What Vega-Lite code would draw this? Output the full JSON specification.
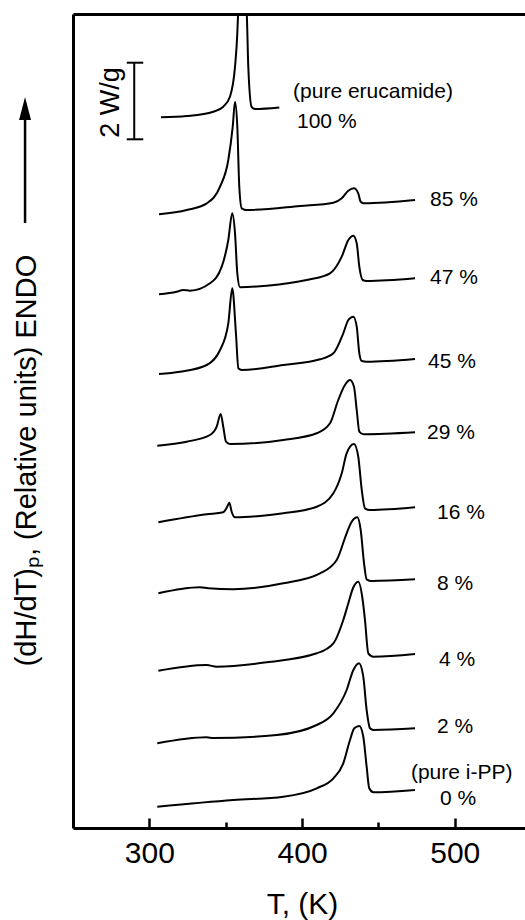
{
  "$schema": "https://vega.github.io/schema/vega-lite/v6.json",
  "width": 452,
  "height": 814,
  "autosize": {"type": "none"},
  "padding": {"left": 73, "top": 14, "right": 0, "bottom": 92},
  "background": "white",
  "config": {
    "view": {"stroke": null},
    "font": "Liberation Sans",
    "axis": {"grid": false, "domainColor": "black", "tickColor": "black", "labelColor": "black", "titleColor": "black", "labelFont": "Liberation Sans", "titleFont": "Liberation Sans"}
  },
  "datasets": {
    "curves": [
      {"s": "100 %", "T": 307.6, "v": 71.07},
      {"s": "100 %", "T": 324.5, "v": 71.2},
      {"s": "100 %", "T": 341.9, "v": 71.63},
      {"s": "100 %", "T": 348.4, "v": 72.13},
      {"s": "100 %", "T": 352.8, "v": 73.13},
      {"s": "100 %", "T": 356.1, "v": 76.13},
      {"s": "100 %", "T": 357.6, "v": 79.47},
      {"s": "100 %", "T": 358.1, "v": 81.4},
      {"s": "100 %", "T": 360.7, "v": 86.8},
      {"s": "100 %", "T": 363.8, "v": 81.4},
      {"s": "100 %", "T": 364.8, "v": 76.1},
      {"s": "100 %", "T": 367.0, "v": 72.1},
      {"s": "100 %", "T": 369.2, "v": 71.9},
      {"s": "100 %", "T": 385.1, "v": 72.05},

      {"s": "85 %", "T": 306.3, "v": 61.37},
      {"s": "85 %", "T": 324.5, "v": 61.8},
      {"s": "85 %", "T": 337.6, "v": 62.47},
      {"s": "85 %", "T": 346.3, "v": 64.13},
      {"s": "85 %", "T": 351.7, "v": 66.8},
      {"s": "85 %", "T": 354.6, "v": 70.13},
      {"s": "85 %", "T": 356.1, "v": 72.63},
      {"s": "85 %", "T": 357.6, "v": 70.13},
      {"s": "85 %", "T": 358.9, "v": 64.13},
      {"s": "85 %", "T": 360.5, "v": 61.97},
      {"s": "85 %", "T": 363.8, "v": 61.8},
      {"s": "85 %", "T": 398.7, "v": 62.2},
      {"s": "85 %", "T": 420.5, "v": 62.53},
      {"s": "85 %", "T": 426.0, "v": 62.97},
      {"s": "85 %", "T": 430.3, "v": 63.73},
      {"s": "85 %", "T": 434.0, "v": 63.97},
      {"s": "85 %", "T": 436.8, "v": 63.47},
      {"s": "85 %", "T": 438.4, "v": 62.63},
      {"s": "85 %", "T": 440.6, "v": 62.47},
      {"s": "85 %", "T": 474.0, "v": 62.8},

      {"s": "47 %", "T": 306.3, "v": 53.37},
      {"s": "47 %", "T": 317.9, "v": 53.63},
      {"s": "47 %", "T": 322.2, "v": 53.8},
      {"s": "47 %", "T": 326.6, "v": 53.73},
      {"s": "47 %", "T": 339.7, "v": 54.47},
      {"s": "47 %", "T": 347.4, "v": 56.13},
      {"s": "47 %", "T": 351.7, "v": 58.8},
      {"s": "47 %", "T": 354.3, "v": 61.47},
      {"s": "47 %", "T": 356.1, "v": 59.47},
      {"s": "47 %", "T": 357.6, "v": 55.47},
      {"s": "47 %", "T": 359.4, "v": 54.07},
      {"s": "47 %", "T": 376.9, "v": 54.23},
      {"s": "47 %", "T": 403.0, "v": 54.8},
      {"s": "47 %", "T": 418.3, "v": 55.47},
      {"s": "47 %", "T": 426.0, "v": 57.13},
      {"s": "47 %", "T": 430.3, "v": 58.8},
      {"s": "47 %", "T": 433.6, "v": 59.23},
      {"s": "47 %", "T": 435.8, "v": 58.47},
      {"s": "47 %", "T": 437.5, "v": 56.13},
      {"s": "47 %", "T": 439.7, "v": 54.8},
      {"s": "47 %", "T": 442.3, "v": 54.7},
      {"s": "47 %", "T": 474.0, "v": 54.97},

      {"s": "45 %", "T": 306.3, "v": 45.4},
      {"s": "45 %", "T": 320.1, "v": 45.63},
      {"s": "45 %", "T": 337.6, "v": 46.3},
      {"s": "45 %", "T": 346.3, "v": 47.8},
      {"s": "45 %", "T": 351.7, "v": 50.47},
      {"s": "45 %", "T": 354.3, "v": 53.97},
      {"s": "45 %", "T": 356.7, "v": 49.47},
      {"s": "45 %", "T": 358.3, "v": 45.97},
      {"s": "45 %", "T": 360.5, "v": 45.8},
      {"s": "45 %", "T": 387.7, "v": 46.3},
      {"s": "45 %", "T": 411.8, "v": 46.87},
      {"s": "45 %", "T": 420.5, "v": 47.47},
      {"s": "45 %", "T": 427.0, "v": 49.47},
      {"s": "45 %", "T": 430.3, "v": 50.8},
      {"s": "45 %", "T": 433.6, "v": 51.13},
      {"s": "45 %", "T": 435.8, "v": 50.13},
      {"s": "45 %", "T": 437.5, "v": 47.47},
      {"s": "45 %", "T": 439.1, "v": 46.7},
      {"s": "45 %", "T": 442.3, "v": 46.63},
      {"s": "45 %", "T": 474.0, "v": 46.9},

      {"s": "29 %", "T": 305.2, "v": 38.23},
      {"s": "29 %", "T": 324.5, "v": 38.63},
      {"s": "29 %", "T": 339.7, "v": 39.3},
      {"s": "29 %", "T": 344.1, "v": 40.13},
      {"s": "29 %", "T": 346.7, "v": 41.4},
      {"s": "29 %", "T": 348.4, "v": 40.13},
      {"s": "29 %", "T": 350.2, "v": 38.63},
      {"s": "29 %", "T": 352.8, "v": 38.4},
      {"s": "29 %", "T": 387.7, "v": 38.8},
      {"s": "29 %", "T": 409.6, "v": 39.47},
      {"s": "29 %", "T": 418.3, "v": 40.47},
      {"s": "29 %", "T": 423.7, "v": 42.8},
      {"s": "29 %", "T": 428.1, "v": 44.3},
      {"s": "29 %", "T": 431.4, "v": 44.8},
      {"s": "29 %", "T": 434.0, "v": 44.13},
      {"s": "29 %", "T": 435.8, "v": 41.8},
      {"s": "29 %", "T": 437.5, "v": 39.63},
      {"s": "29 %", "T": 440.1, "v": 39.37},
      {"s": "29 %", "T": 474.0, "v": 39.57},

      {"s": "16 %", "T": 305.9, "v": 30.57},
      {"s": "16 %", "T": 337.6, "v": 31.37},
      {"s": "16 %", "T": 348.4, "v": 31.57},
      {"s": "16 %", "T": 351.0, "v": 32.13},
      {"s": "16 %", "T": 352.4, "v": 32.53},
      {"s": "16 %", "T": 353.9, "v": 31.63},
      {"s": "16 %", "T": 356.1, "v": 31.07},
      {"s": "16 %", "T": 372.5, "v": 31.2},
      {"s": "16 %", "T": 387.7, "v": 31.47},
      {"s": "16 %", "T": 409.6, "v": 32.13},
      {"s": "16 %", "T": 420.5, "v": 33.47},
      {"s": "16 %", "T": 426.0, "v": 35.47},
      {"s": "16 %", "T": 429.2, "v": 37.47},
      {"s": "16 %", "T": 434.0, "v": 38.4},
      {"s": "16 %", "T": 436.8, "v": 37.13},
      {"s": "16 %", "T": 439.1, "v": 33.8},
      {"s": "16 %", "T": 441.2, "v": 31.97},
      {"s": "16 %", "T": 444.5, "v": 31.8},
      {"s": "16 %", "T": 474.0, "v": 32.07},

      {"s": "8 %", "T": 305.9, "v": 23.47},
      {"s": "8 %", "T": 333.2, "v": 24.07},
      {"s": "8 %", "T": 338.6, "v": 23.97},
      {"s": "8 %", "T": 355.0, "v": 23.87},
      {"s": "8 %", "T": 387.7, "v": 24.47},
      {"s": "8 %", "T": 411.8, "v": 25.47},
      {"s": "8 %", "T": 422.7, "v": 26.8},
      {"s": "8 %", "T": 429.2, "v": 29.47},
      {"s": "8 %", "T": 432.5, "v": 30.63},
      {"s": "8 %", "T": 436.2, "v": 31.07},
      {"s": "8 %", "T": 438.4, "v": 29.8},
      {"s": "8 %", "T": 440.6, "v": 26.47},
      {"s": "8 %", "T": 442.3, "v": 24.87},
      {"s": "8 %", "T": 445.6, "v": 24.7},
      {"s": "8 %", "T": 474.0, "v": 24.87},

      {"s": "4 %", "T": 305.9, "v": 15.73},
      {"s": "4 %", "T": 337.6, "v": 16.3},
      {"s": "4 %", "T": 344.1, "v": 16.13},
      {"s": "4 %", "T": 376.9, "v": 16.57},
      {"s": "4 %", "T": 409.6, "v": 17.47},
      {"s": "4 %", "T": 420.5, "v": 18.47},
      {"s": "4 %", "T": 427.0, "v": 20.8},
      {"s": "4 %", "T": 430.3, "v": 22.47},
      {"s": "4 %", "T": 433.4, "v": 24.0},
      {"s": "4 %", "T": 436.8, "v": 24.63},
      {"s": "4 %", "T": 439.7, "v": 22.8},
      {"s": "4 %", "T": 441.2, "v": 20.8},
      {"s": "4 %", "T": 443.4, "v": 17.47},
      {"s": "4 %", "T": 446.7, "v": 17.13},
      {"s": "4 %", "T": 474.0, "v": 17.4},

      {"s": "2 %", "T": 305.2, "v": 8.47},
      {"s": "2 %", "T": 337.6, "v": 9.07},
      {"s": "2 %", "T": 341.9, "v": 9.0},
      {"s": "2 %", "T": 383.4, "v": 9.3},
      {"s": "2 %", "T": 409.6, "v": 10.3},
      {"s": "2 %", "T": 420.5, "v": 11.47},
      {"s": "2 %", "T": 429.2, "v": 13.8},
      {"s": "2 %", "T": 433.6, "v": 15.8},
      {"s": "2 %", "T": 437.3, "v": 16.47},
      {"s": "2 %", "T": 440.1, "v": 15.13},
      {"s": "2 %", "T": 442.3, "v": 11.8},
      {"s": "2 %", "T": 444.5, "v": 9.97},
      {"s": "2 %", "T": 446.7, "v": 9.8},
      {"s": "2 %", "T": 474.0, "v": 9.97},

      {"s": "0 %", "T": 305.2, "v": 2.13},
      {"s": "0 %", "T": 355.0, "v": 2.8},
      {"s": "0 %", "T": 387.7, "v": 3.13},
      {"s": "0 %", "T": 409.6, "v": 3.97},
      {"s": "0 %", "T": 420.5, "v": 4.97},
      {"s": "0 %", "T": 427.0, "v": 6.47},
      {"s": "0 %", "T": 431.4, "v": 8.8},
      {"s": "0 %", "T": 434.2, "v": 9.97},
      {"s": "0 %", "T": 437.5, "v": 10.2},
      {"s": "0 %", "T": 440.1, "v": 9.13},
      {"s": "0 %", "T": 442.3, "v": 6.13},
      {"s": "0 %", "T": 444.0, "v": 3.97},
      {"s": "0 %", "T": 446.7, "v": 3.57},
      {"s": "0 %", "T": 474.0, "v": 3.8}
    ],
    "labels": [
      {"t": "(pure erucamide)", "T": 394.1, "v": 73.6},
      {"t": "100 %", "T": 396.7, "v": 70.6},
      {"t": "85 %", "T": 483.8, "v": 62.8},
      {"t": "47 %", "T": 483.8, "v": 55.0},
      {"t": "45 %", "T": 482.5, "v": 46.6},
      {"t": "29 %", "T": 481.8, "v": 39.5},
      {"t": "16 %", "T": 488.4, "v": 31.5},
      {"t": "8 %", "T": 488.4, "v": 24.4},
      {"t": "4 %", "T": 489.7, "v": 16.8},
      {"t": "2 %", "T": 488.4, "v": 10.1},
      {"t": "(pure i-PP)", "T": 471.3, "v": 5.5},
      {"t": "0 %", "T": 490.3, "v": 2.9}
    ],
    "scalebar": [{"T": 290.1, "v": 68.87, "v2": 76.53}],
    "caps": [
      {"T": 285.2, "T2": 296.0, "v": 76.53},
      {"T": 285.2, "T2": 296.0, "v": 68.87}
    ],
    "scaletext": [{"t": "2 W/g", "T": 280.3, "v": 72.55}],
    "arrow": [{"T": 218.6, "v": 60.5, "v2": 71.8}],
    "arrowhead": [{"T": 218.6, "v": 71.95}]
  },
  "layer": [
    {
      "data": {"name": "curves"},
      "mark": {"type": "line", "color": "black", "strokeWidth": 2, "interpolate": "monotone", "clip": true},
      "encoding": {
        "x": {
          "field": "T", "type": "quantitative",
          "scale": {"domain": [250, 546], "nice": false, "zero": false},
          "axis": {
            "orient": "bottom",
            "values": [300, 350, 400, 450, 500],
            "labelExpr": "datum.value % 100 === 0 ? datum.label : ''",
            "tickSize": {"condition": {"test": "datum.value % 100 === 0", "value": -10}, "value": -6},
            "tickWidth": 2.5,
            "domainWidth": 3,
            "labelFontSize": 30,
            "labelPadding": 20,
            "labelFlush": false,
            "labelOverlap": false,
            "title": "T, (K)",
            "titleFontSize": 30,
            "titleFontWeight": "normal",
            "titleBaseline": "alphabetic",
            "titleAlign": "center",
            "titleX": 229,
            "titleY": 85
          }
        },
        "y": {
          "field": "v", "type": "quantitative",
          "scale": {"domain": [0, 81.4], "nice": false, "zero": false},
          "axis": {
            "orient": "left",
            "ticks": false,
            "labels": false,
            "domainWidth": 3,
            "title": "(dH/dT)ₚ, (Relative units) ENDO",
            "titleFontSize": 29,
            "titleFontWeight": "normal",
            "titleAngle": 270,
            "titleAlign": "center",
            "titleBaseline": "alphabetic",
            "titleX": -38,
            "titleY": 446
          }
        },
        "detail": {"field": "s"}
      }
    },
    {
      "data": {"name": "labels"},
      "mark": {"type": "text", "align": "left", "baseline": "middle", "fontSize": 21, "color": "black", "font": "Liberation Sans"},
      "encoding": {
        "x": {"field": "T", "type": "quantitative", "scale": {"domain": [250, 546], "nice": false, "zero": false}, "axis": null},
        "y": {"field": "v", "type": "quantitative", "scale": {"domain": [0, 81.4], "nice": false, "zero": false}},
        "text": {"field": "t"}
      }
    },
    {
      "data": {"name": "scalebar"},
      "mark": {"type": "rule", "color": "black", "strokeWidth": 2},
      "encoding": {
        "x": {
          "field": "T", "type": "quantitative", "scale": {"domain": [250, 546], "nice": false, "zero": false},
          "axis": {"orient": "top", "ticks": false, "labels": false, "title": null, "domainWidth": 3}
        },
        "y": {"field": "v", "type": "quantitative", "scale": {"domain": [0, 81.4], "nice": false, "zero": false}},
        "y2": {"field": "v2"}
      }
    },
    {
      "data": {"name": "caps"},
      "mark": {"type": "rule", "color": "black", "strokeWidth": 2},
      "encoding": {
        "x": {"field": "T", "type": "quantitative", "scale": {"domain": [250, 546], "nice": false, "zero": false}, "axis": null},
        "x2": {"field": "T2"},
        "y": {"field": "v", "type": "quantitative", "scale": {"domain": [0, 81.4], "nice": false, "zero": false}}
      }
    },
    {
      "data": {"name": "scaletext"},
      "mark": {"type": "text", "angle": 270, "align": "center", "baseline": "alphabetic", "fontSize": 27, "color": "black", "font": "Liberation Sans"},
      "encoding": {
        "x": {"field": "T", "type": "quantitative", "scale": {"domain": [250, 546], "nice": false, "zero": false}, "axis": null},
        "y": {"field": "v", "type": "quantitative", "scale": {"domain": [0, 81.4], "nice": false, "zero": false}},
        "text": {"field": "t"}
      }
    },
    {
      "data": {"name": "arrow"},
      "mark": {"type": "rule", "color": "black", "strokeWidth": 2.5, "clip": false},
      "encoding": {
        "x": {"field": "T", "type": "quantitative", "scale": {"domain": [250, 546], "nice": false, "zero": false}, "axis": null},
        "y": {"field": "v", "type": "quantitative", "scale": {"domain": [0, 81.4], "nice": false, "zero": false}},
        "y2": {"field": "v2"}
      }
    },
    {
      "data": {"name": "arrowhead"},
      "mark": {"type": "point", "shape": "M0,-1L-0.52,1L0.52,1Z", "filled": true, "color": "black", "opacity": 1, "size": 529, "clip": false},
      "encoding": {
        "x": {"field": "T", "type": "quantitative", "scale": {"domain": [250, 546], "nice": false, "zero": false}, "axis": null},
        "y": {"field": "v", "type": "quantitative", "scale": {"domain": [0, 81.4], "nice": false, "zero": false}}
      }
    }
  ],
  "resolve": {"axis": {"x": "independent"}}
}
